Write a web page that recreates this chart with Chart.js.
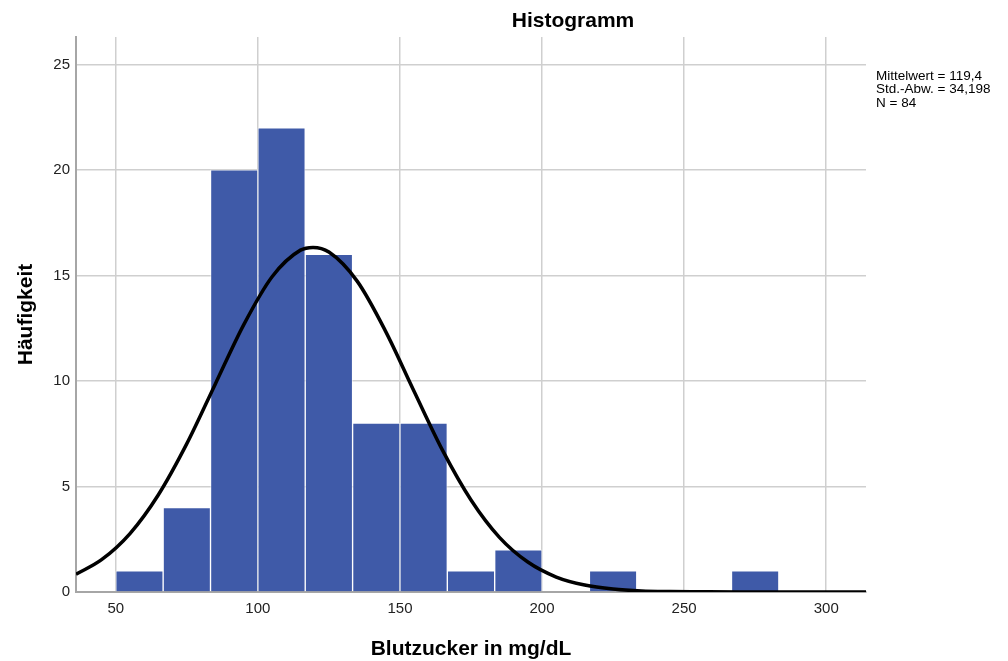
<!DOCTYPE html>
<html>
<head>
<meta charset="utf-8">
<title>Histogramm</title>
<script src="https://cdn.jsdelivr.net/npm/chart.js@4.4.1/dist/chart.umd.min.js"></script>
<style>
  html, body { margin: 0; padding: 0; background: #fff; }
</style>
</head>
<body>
<canvas id="histChart" width="1008" height="661"></canvas>
<script>
// bins of width 16.67 starting at 50 (empty bins left out)
const binCenters = [58.33, 75, 91.67, 108.33, 125, 141.67, 158.33, 175, 191.67, 225, 275];
const counts = [1, 4, 20, 22, 16, 8, 8, 1, 2, 1, 1];

// normal curve
const curveX = [36, 45, 55, 65, 75, 85, 95, 105, 115, 119.4, 125, 135, 145, 155, 165, 175, 185, 195, 205, 215, 225, 235, 245, 255, 270, 290, 314];
const curveY = [0.84, 1.53, 2.77, 4.61, 7.03, 9.85, 12.66, 14.94, 16.2, 16.33, 16.11, 14.72, 12.34, 9.5, 6.71, 4.36, 2.59, 1.42, 0.71, 0.33, 0.14, 0.05, 0.02, 0.01, 0, 0, 0];

const statsLines = ["Mittelwert = 119,4", "Std.-Abw. = 34,198", "N = 84"];

const fontFamily = "'Liberation Sans', Arial, sans-serif";

const textPlugin = {
  id: "texts",
  afterDraw(chart) {
    const ctx = chart.ctx;
    const area = chart.chartArea;
    ctx.save();
    ctx.fillStyle = "#000";
    ctx.font = "bold 21px " + fontFamily;
    ctx.textAlign = "center";
    ctx.textBaseline = "alphabetic";
    ctx.fillText("Histogramm", 573, 27);
    ctx.fillText("Blutzucker in mg/dL", (area.left + area.right) / 2, 655);
    ctx.save();
    ctx.translate(32, (area.top + area.bottom) / 2);
    ctx.rotate(-Math.PI / 2);
    ctx.fillText("Häufigkeit", 0, 0);
    ctx.restore();

    ctx.font = "13.5px " + fontFamily;
    ctx.textAlign = "left";
    statsLines.forEach((line, i) => {
      ctx.fillText(line, 876, 79.5 + i * 13.5);
    });
    ctx.restore();
  },
};

const histChart = new Chart(document.querySelector("#histChart"), {
  type: "bar",
  data: {
    datasets: [
      {
        type: "line",
        data: curveX.map((x, i) => ({ x: x, y: curveY[i] })),
        borderColor: "#000",
        borderWidth: 3.5,
        pointRadius: 0,
        fill: false,
        cubicInterpolationMode: "monotone",
        order: 0,
      },
      {
        type: "bar",
        data: binCenters.map((x, i) => ({ x: x, y: counts[i] })),
        backgroundColor: "#3f5aa8",
        borderColor: "rgba(255,255,255,0.55)",
        borderWidth: 1,
        barPercentage: 1,
        categoryPercentage: 1,
        order: 1,
      },
    ],
  },
  options: {
    responsive: false,
    animation: false,
    layout: {
      padding: { top: 37, right: 142, left: 0, bottom: 0 },
    },
    plugins: {
      legend: { display: false },
      tooltip: { enabled: false },
      title: { display: false },
    },
    scales: {
      x: {
        type: "linear",
        min: 36,
        max: 314,
        offset: false,
        ticks: {
          stepSize: 50,
          includeBounds: false,
          padding: 8,
          color: "#222",
          font: { size: 15, family: fontFamily },
        },
        grid: { color: "#cfcfcf", lineWidth: 1.5, drawTicks: false, offset: false },
        border: { color: "#a6a6a6", width: 2 },
        afterFit: (scale) => { scale.height = 69; },
      },
      y: {
        min: 0,
        max: 26.3,
        ticks: {
          stepSize: 5,
          includeBounds: false,
          padding: 6,
          color: "#222",
          font: { size: 15, family: fontFamily },
        },
        grid: { color: "#cfcfcf", lineWidth: 1.5, drawTicks: false },
        border: { color: "#a6a6a6", width: 2 },
        afterFit: (scale) => { scale.width = 76; },
      },
    },
  },
  plugins: [textPlugin],
});
</script>
</body>
</html>
